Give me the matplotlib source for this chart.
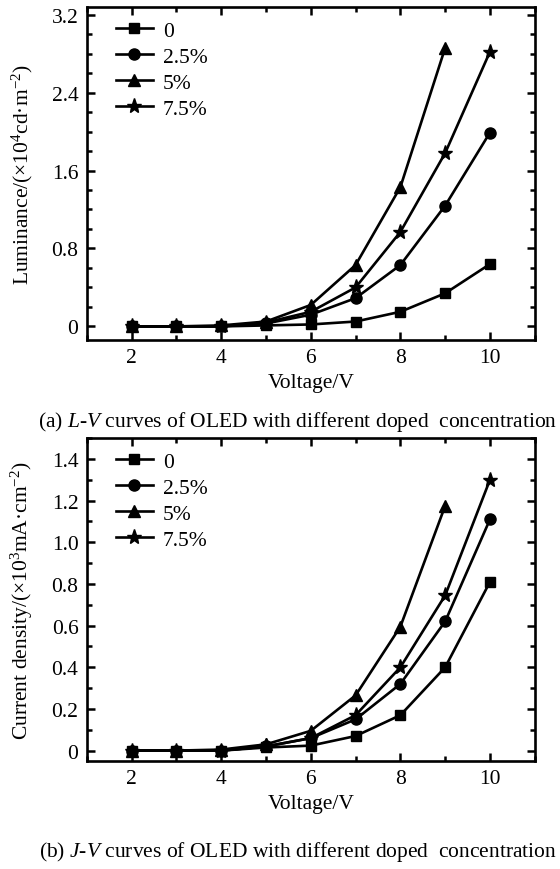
import matplotlib
matplotlib.use("Agg")
import matplotlib.pyplot as plt
from matplotlib.ticker import MultipleLocator, FuncFormatter

plt.rcParams['font.family'] = ['Liberation Serif', 'DejaVu Serif']
plt.rcParams['mathtext.fontset'] = 'custom'
plt.rcParams['mathtext.rm'] = 'Liberation Serif'
plt.rcParams['mathtext.it'] = 'Liberation Serif:italic'
plt.rcParams['mathtext.bf'] = 'Liberation Serif:bold'

voltage = [2, 3, 4, 5, 6, 7, 8, 9, 10]
voltage_5 = [2, 3, 4, 5, 6, 7, 8, 9]
labels = ['0', '2.5%', '5%', '7.5%']
markers = ['s', 'o', '^', '*']

# (a) Luminance, x10^4 cd/m^2
lum_0 = [0, 0, 0, 0.01, 0.02, 0.05, 0.15, 0.34, 0.64]
lum_25 = [0, 0, 0, 0.03, 0.12, 0.29, 0.63, 1.24, 1.99]
lum_5 = [0, 0, 0.01, 0.05, 0.22, 0.63, 1.43, 2.86]
lum_75 = [0, 0, 0, 0.04, 0.15, 0.40, 0.97, 1.78, 2.82]

# (b) Current density, x10^3 mA/cm^2
cur_0 = [0, 0, 0, 0.015, 0.024, 0.07, 0.17, 0.40, 0.81]
cur_25 = [0, 0, 0, 0.02, 0.06, 0.15, 0.32, 0.62, 1.11]
cur_5 = [0, 0, 0.005, 0.03, 0.095, 0.265, 0.595, 1.175]
cur_75 = [0, 0, 0, 0.02, 0.06, 0.17, 0.40, 0.745, 1.30]

FS = 15.5
msizes = {'s': 7.5, 'o': 8, '^': 9, '*': 11}

fig = plt.figure(figsize=(5.6, 8.7), dpi=100)
ax1 = fig.add_axes([0.155, 0.608, 0.80, 0.383])
ax2 = fig.add_axes([0.155, 0.1241, 0.80, 0.3713])

def style(ax, ylim, ymaj, ymin):
    ax.set_xlim(1, 11)
    ax.set_ylim(*ylim)
    ax.xaxis.set_major_locator(MultipleLocator(2))
    ax.xaxis.set_minor_locator(MultipleLocator(1))
    ax.yaxis.set_major_locator(MultipleLocator(ymaj))
    ax.yaxis.set_minor_locator(MultipleLocator(ymin))
    ax.tick_params(which='both', direction='in', top=True, right=True,
                   labelsize=FS, width=1.8, pad=6)
    ax.tick_params(which='major', length=6)
    ax.tick_params(which='minor', length=3.5)
    for s in ax.spines.values():
        s.set_linewidth(1.9)
    ax.set_xlabel('Voltage/V', fontsize=FS, labelpad=4)
    ax.yaxis.set_major_formatter(FuncFormatter(lambda v, p: '0' if abs(v) < 1e-9 else f'{v:.1f}'))

def plot_set(ax, series):
    for (x, y), m, lab in zip(series, markers, labels):
        ax.plot(x, y, color='black', marker=m, markersize=msizes[m],
                linewidth=1.9, label=lab)
    ax.legend(loc='upper left', frameon=False, fontsize=FS,
              handlelength=1.75, handletextpad=0.45, labelspacing=0.28,
              borderaxespad=0.0, bbox_to_anchor=(0.045, 0.985))

plot_set(ax1, [(voltage, lum_0), (voltage, lum_25), (voltage_5, lum_5), (voltage, lum_75)])
style(ax1, (-0.14, 3.28), 0.8, 0.2)
ax1.set_ylabel('Luminance/(×10$^{4}$cd·m$^{-2}$)', fontsize=FS, labelpad=12)

plot_set(ax2, [(voltage, cur_0), (voltage, cur_25), (voltage_5, cur_5), (voltage, cur_75)])
style(ax2, (-0.05, 1.5), 0.2, 0.1)
ax2.set_ylabel('Current density/(×10$^{3}$mA·cm$^{-2}$)', fontsize=FS, labelpad=12)

fig.text(0.532, 0.515, '(a) $L$-$V$ curves of OLED with different doped  concentration',
         ha='center', va='center', fontsize=FS)
fig.text(0.532, 0.021, '(b) $J$-$V$ curves of OLED with different doped  concentration',
         ha='center', va='center', fontsize=FS)

fig.savefig('out.png', dpi=100)
